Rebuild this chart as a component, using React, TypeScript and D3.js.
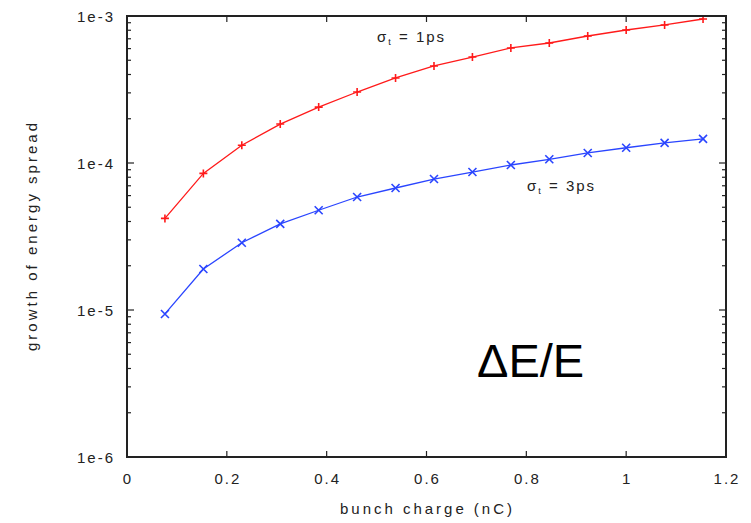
import React from "react";
import * as d3 from "d3";

// bunch charge (nC) of each simulated point
const charge = [0.076, 0.153, 0.23, 0.307, 0.384, 0.461, 0.538, 0.615, 0.692, 0.769, 0.846, 0.923, 1.0, 1.077, 1.154];
// growth of energy spread, sigma_t = 1ps
const sigma1ps = [4.2e-5, 8.5e-5, 1.32e-4, 1.84e-4, 2.4e-4, 3.04e-4, 3.79e-4, 4.57e-4, 5.26e-4, 6.06e-4, 6.55e-4, 7.31e-4, 8.03e-4, 8.69e-4, 9.54e-4];
// growth of energy spread, sigma_t = 3ps
const sigma3ps = [9.4e-6, 1.9e-5, 2.87e-5, 3.85e-5, 4.77e-5, 5.87e-5, 6.76e-5, 7.78e-5, 8.68e-5, 9.69e-5, 1.06e-4, 1.17e-4, 1.27e-4, 1.37e-4, 1.46e-4];

const xTicks = [0, 0.2, 0.4, 0.6, 0.8, 1, 1.2];
const xTickLabels = ["0", "0.2", "0.4", "0.6", "0.8", "1", "1.2"];
const yTicks = [1e-6, 1e-5, 1e-4, 1e-3];
const yTickLabels = ["1e-6", "1e-5", "1e-4", "1e-3"];

const width = 751;
const height = 523;
const margin = { top: 16, right: 25, bottom: 66, left: 127 };

const FONT = "'Liberation Sans', Arial, sans-serif";
const AXIS = "#222";

export default function App() {
  const x = d3.scaleLinear().domain([0, 1.2]).range([margin.left, width - margin.right]);
  const y = d3.scaleLog().domain([1e-6, 1e-3]).range([height - margin.bottom, margin.top]);

  const [x0, x1] = x.range();
  const [y0, y1] = y.range();

  // minor log ticks 2..9 in each decade
  const minor: number[] = [];
  for (let e = -6; e < -3; e++) {
    for (let m = 2; m <= 9; m++) minor.push(m * Math.pow(10, e));
  }

  const line = d3
    .line<number>()
    .x((_, i) => x(charge[i]))
    .y((d) => y(d));

  const series = [
    { values: sigma1ps, color: "#ff1a1a", marker: "plus" },
    { values: sigma3ps, color: "#2a45ff", marker: "cross" },
  ];

  const mk = 4;

  return (
    <div style={{ position: "absolute", left: 0, top: 0 }}>
      <svg width={width} height={height} style={{ display: "block", background: "#fff" }}>
        {/* series */}
        {series.map((s, si) => (
          <g key={si}>
            <path d={line(s.values) || ""} fill="none" stroke={s.color} strokeWidth={1.3} />
            {s.values.map((v, i) => {
              const cx = x(charge[i]);
              const cy = y(v);
              return s.marker === "plus" ? (
                <path
                  key={i}
                  d={`M${cx - mk},${cy}H${cx + mk}M${cx},${cy - mk}V${cy + mk}`}
                  stroke={s.color}
                  strokeWidth={1.6}
                />
              ) : (
                <path
                  key={i}
                  d={`M${cx - mk},${cy - mk}L${cx + mk},${cy + mk}M${cx - mk},${cy + mk}L${cx + mk},${cy - mk}`}
                  stroke={s.color}
                  strokeWidth={1.6}
                />
              );
            })}
          </g>
        ))}

        {/* ticks */}
        <g stroke={AXIS} strokeWidth={1.2}>
          {xTicks.slice(1, -1).map((t) => (
            <g key={t}>
              <line x1={x(t)} x2={x(t)} y1={y0} y2={y0 - 6} />
              <line x1={x(t)} x2={x(t)} y1={y1} y2={y1 + 6} />
            </g>
          ))}
          {yTicks.slice(1, -1).map((t) => (
            <g key={t}>
              <line x1={x0} x2={x0 + 7} y1={y(t)} y2={y(t)} />
              <line x1={x1} x2={x1 - 7} y1={y(t)} y2={y(t)} />
            </g>
          ))}
          {minor.map((t) => (
            <g key={t}>
              <line x1={x0} x2={x0 + 4} y1={y(t)} y2={y(t)} />
              <line x1={x1} x2={x1 - 4} y1={y(t)} y2={y(t)} />
            </g>
          ))}
        </g>

        {/* frame */}
        <rect x={x0} y={y1} width={x1 - x0} height={y0 - y1} fill="none" stroke={AXIS} strokeWidth={2} />

        {/* tick labels */}
        <g fontFamily={FONT} fontSize={15} fill={AXIS}>
          {xTicks.map((t, i) => (
            <text key={t} x={x(t) + 1} y={y0 + 27} textAnchor="middle" letterSpacing={2}>
              {xTickLabels[i]}
            </text>
          ))}
          {yTicks.map((t, i) => (
            <text key={t} x={x0 - 12} y={y(t) + 6} textAnchor="end" letterSpacing={2}>
              {yTickLabels[i]}
            </text>
          ))}
        </g>

        {/* axis titles */}
        <text
          x={426}
          y={514}
          textAnchor="middle"
          fontFamily={FONT}
          fontSize={15}
          fill={AXIS}
          textLength={172}
          lengthAdjust="spacing"
        >
          bunch charge (nC)
        </text>
        <text
          transform="translate(37,237) rotate(-90)"
          textAnchor="middle"
          fontFamily={FONT}
          fontSize={15}
          fill={AXIS}
          textLength={228}
          lengthAdjust="spacing"
        >
          growth of energy spread
        </text>

        {/* annotations */}
        <text x={377} y={42} fontFamily={FONT} fontSize={15} fill={AXIS} letterSpacing={2}>
          σ<tspan fontSize={9} dy={3}>t</tspan>
          <tspan dy={-3}> = 1ps</tspan>
        </text>
        <text x={527} y={191} fontFamily={FONT} fontSize={15} fill={AXIS} letterSpacing={2}>
          σ<tspan fontSize={9} dy={3}>t</tspan>
          <tspan dy={-3}> = 3ps</tspan>
        </text>

        <text x={477} y={377} fontFamily={FONT} fontSize={47} fill="#000">
          ΔE/E
        </text>
      </svg>
    </div>
  );
}
